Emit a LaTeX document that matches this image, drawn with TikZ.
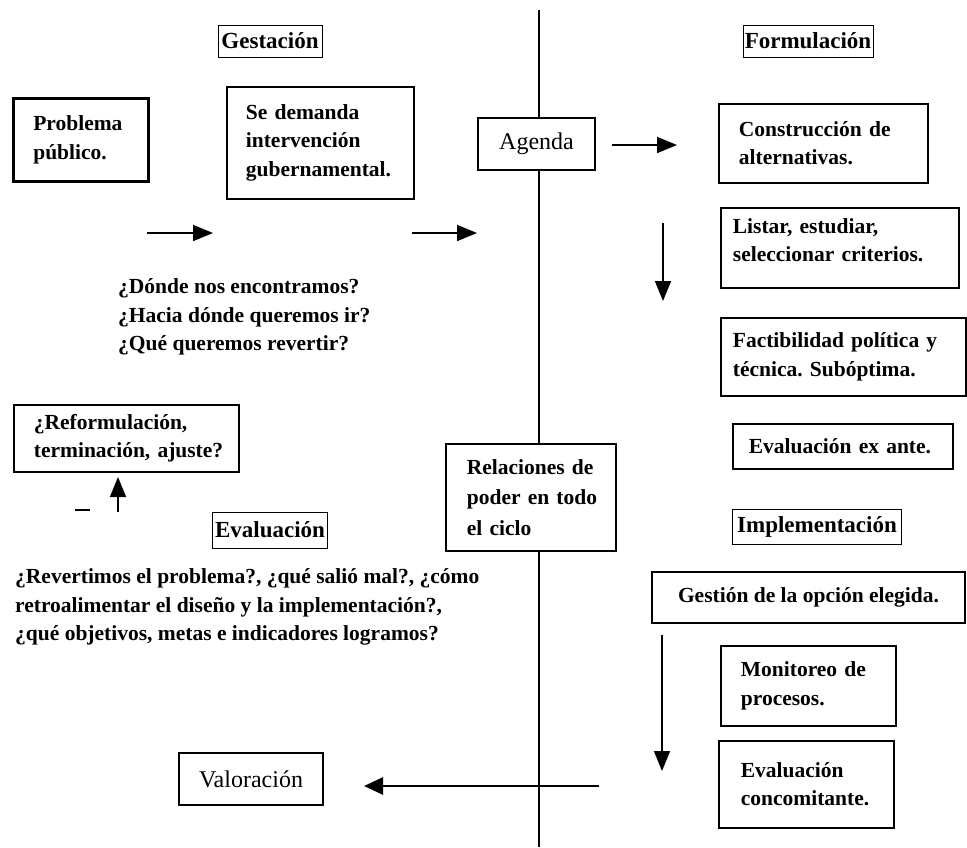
\documentclass[tikz,border=0pt]{standalone}
\usepackage{fontspec}
\setmainfont{Liberation Serif}
\usetikzlibrary{arrows.meta}
\frenchspacing
\begin{document}
\begin{tikzpicture}[x=1pt,y=-1pt,
  txt/.style={font=\fontsize{21.5}{28.5}\selectfont\bfseries},
  plaintxt/.style={font=\fontsize{24}{28.5}\selectfont},
  box/.style={draw, line width=1.8pt, fill=white, anchor=north west,
    inner ysep=0pt, align=left, txt},
  cbox/.style={draw, line width=1.8pt, fill=white, inner sep=0pt, align=center},
  header/.style={draw, line width=0.9pt, fill=white, inner sep=0pt,
    font=\fontsize{23}{28}\selectfont\bfseries},
  arr/.style={line width=1.6pt, -{Triangle[length=20pt,width=16pt]}},
  heavyarr/.style={line width=2.8pt, -{Triangle[length=19pt,width=17pt]}},
]
\useasboundingbox (0,0) rectangle (967,847);

% central axis of the cycle
\coordinate (vtop) at (539,10);
\coordinate (vbot) at (539,847);
\draw[line width=1.3pt] (vtop) -- (vbot);

% phase headers
\node[header, minimum width=104pt, minimum height=32pt] (gest) at (270,41) {Gestación};
\node[header, minimum width=130pt, minimum height=32pt] (form) at (808,41) {Formulación};
\node[header, minimum width=115pt, minimum height=36pt] (eval) at (270,530) {Evaluación};
\node[header, minimum width=169pt, minimum height=35pt] (impl) at (817,527) {Implementación};

% gestation
\node[box, line width=2.6pt, minimum width=135pt, minimum height=83pt,
      inner xsep=20pt, text width=95pt] (prob) at (12,97) {Problema\\público.};
\node[box, minimum width=187pt, minimum height=112pt,
      inner xsep=19pt, text width=149pt] (dem) at (226,86)
      {Se~demanda\\intervención\\gubernamental.};
\node[txt, align=left, anchor=west, inner sep=0pt] (preg) at (118,317)
      {¿Dónde nos encontramos?\\¿Hacia dónde queremos ir?\\¿Qué queremos revertir?};

\coordinate (a1s) at (147,233); \coordinate (a1e) at (213,233);
\coordinate (a2s) at (412,233); \coordinate (a2e) at (477,233);
\draw[arr] (a1s) -- (a1e);
\draw[arr] (a2s) -- (a2e);

% agenda
\node[cbox, plaintxt, minimum width=117pt, minimum height=52pt] (agenda) at (536.5,144) {Agenda};
\coordinate (a3s) at (612,145); \coordinate (a3e) at (677,145);
\draw[arr] (a3s) -- (a3e);

% formulation
\node[box, minimum width=209pt, minimum height=79pt,
      inner xsep=20pt, text width=169pt] (alt) at (718,103)
      {Construcción~de\\alternativas.};
\node[box, minimum width=238pt, minimum height=80pt,
      inner xsep=12pt, text width=214pt, text depth=44.5pt] (crit) at (720,207)
      {Listar,~estudiar,\\seleccionar~criterios.};
\node[box, minimum width=245pt, minimum height=78pt,
      inner xsep=12pt, text width=221pt] (fact) at (720,317)
      {Factibilidad~política~y\\técnica.~Subóptima.};
\node[box, minimum width=220pt, minimum height=45pt,
      inner xsep=16pt, text width=188pt] (exante) at (732,423)
      {Evaluación~ex~ante.};
\coordinate (a4s) at (663,223); \coordinate (a4e) at (663,301);
\draw[arr] (a4s) -- (a4e);

% power relations
\node[box, font=\fontsize{21.5}{30.5}\selectfont\bfseries,
      minimum width=170pt, minimum height=107pt,
      inner xsep=21pt, text width=128pt] (poder) at (445,443)
      {Relaciones~de\\poder~en~todo\\el~ciclo};

% implementation
\node[cbox, txt, minimum width=313pt, minimum height=51pt] (gestion) at (808.5,597.5)
      {Gestión de la opción elegida.};
\node[box, minimum width=175pt, minimum height=80pt,
      inner xsep=20pt, text width=135pt] (monit) at (720,645)
      {Monitoreo~de\\procesos.};
\node[box, minimum width=175pt, minimum height=87pt,
      inner xsep=22pt, text width=131pt] (conc) at (718,740)
      {Evaluación\\concomitante.};
\coordinate (a5s) at (662,635); \coordinate (a5e) at (662,771);
\draw[arr] (a5s) -- (a5e);

% evaluation
\node[cbox, plaintxt, minimum width=144pt, minimum height=52pt] (valor) at (251,779) {Valoración};
\coordinate (a6s) at (599,786); \coordinate (a6e) at (364,786);
\draw[heavyarr] (a6s) -- (a6e);

\node[txt, align=left, anchor=west, inner sep=0pt] (revert) at (15,607)
      {¿Revertimos el problema?, ¿qué salió mal?, ¿cómo\\retroalimentar el diseño y la implementación?,\\¿qué objetivos, metas e indicadores logramos?};

\node[box, minimum width=225pt, minimum height=67pt,
      inner xsep=20pt, text width=185pt] (reform) at (13,404)
      {¿Reformulación,\\terminación,~ajuste?};
\coordinate (a7s) at (118,512); \coordinate (a7e) at (118,477);
\draw[arr] (a7s) -- (a7e);
\coordinate (d1) at (75,510); \coordinate (d2) at (90,510);
\draw[line width=1.4pt] (d1) -- (d2);
\end{tikzpicture}
\end{document}
